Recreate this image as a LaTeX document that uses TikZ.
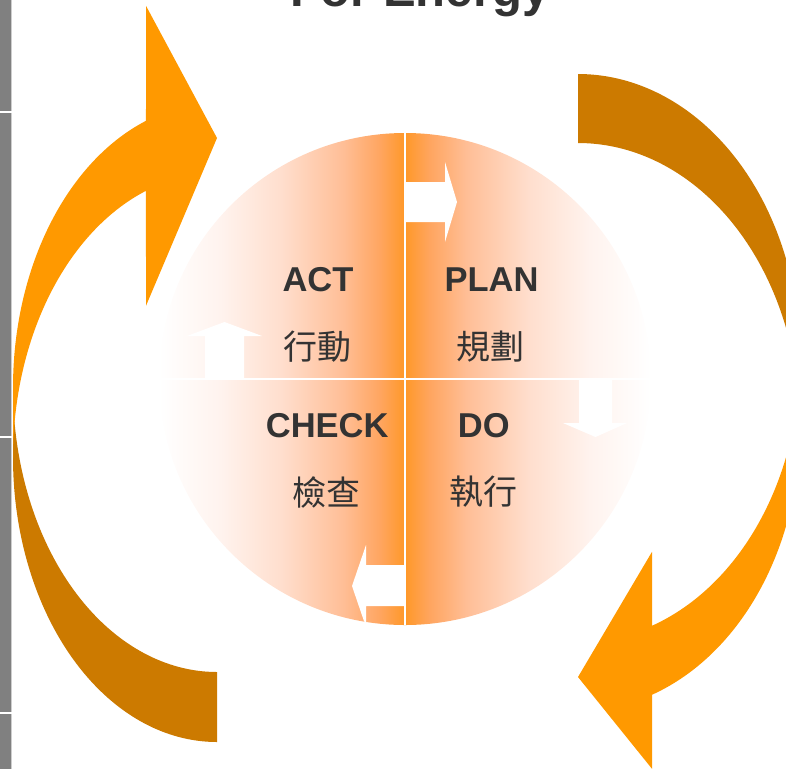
\documentclass[tikz,border=0pt]{standalone}
\usepackage{fontspec}
\setmainfont{Liberation Sans}
\newfontfamily\cjk{Noto Sans CJK TC}
\definecolor{orng}{RGB}{255,153,0}
\definecolor{dorng}{RGB}{204,122,0}
\definecolor{gradc}{RGB}{255,152,40}
\definecolor{gA}{RGB}{255,243,238}
\definecolor{gB}{RGB}{255,222,205}
\definecolor{gC}{RGB}{255,190,150}
\definecolor{gD}{RGB}{255,165,95}
\definecolor{txt}{RGB}{51,51,51}
\definecolor{barc}{RGB}{128,128,128}
\definecolor{baredge}{RGB}{205,205,205}
\pgfdeclarehorizontalshading{fadeleft}{100bp}{color(0bp)=(white); color(25bp)=(white); color(37.5bp)=(gA); color(50bp)=(gB); color(62.5bp)=(gC); color(70bp)=(gD); color(75bp)=(gradc); color(100bp)=(gradc)}
\pgfdeclarehorizontalshading{faderight}{100bp}{color(0bp)=(gradc); color(25bp)=(gradc); color(30bp)=(gD); color(37.5bp)=(gC); color(50bp)=(gB); color(62.5bp)=(gA); color(75bp)=(white); color(100bp)=(white)}
\begin{document}
\begin{tikzpicture}[x=1pt,y=-1pt,
  lbl/.style={font=\fontsize{34.5}{40}\selectfont\bfseries, text=txt, inner sep=0pt, anchor=base},
  zh/.style={font=\cjk\fontsize{34}{40}\selectfont, text=txt, inner sep=0pt, anchor=center},
  ttl/.style={font=\fontsize{49}{56}\selectfont\bfseries, text=txt, inner sep=0pt, anchor=base},
  warrow/.style={fill=white},
  divider/.style={draw=white, line width=2pt}]
\useasboundingbox (0,0) rectangle (786,769);
\begin{scope}
\clip (0,0) rectangle (786,769);
% title (cut off at the top)
\node[ttl] (title) at (420,6) {For Energy};
% left gray bar
\fill[barc] (0,0) rectangle (11,769);
\draw[baredge, line width=1pt] (11.5,0) -- (11.5,769);
\fill[white] (0,111) rectangle (12,113);
\fill[white] (0,436) rectangle (12,438);
\fill[white] (0,712) rectangle (12,714);
% left curved arrow: tail (dark) then body
\fill[dorng] plot[domain=90:180,samples=90] ({217+204*cos(\x)},{457.5+284.5*sin(\x)})
  -- plot[domain=180:90,samples=90] ({217+204*cos(\x)},{387.5+284.5*sin(\x)}) -- cycle;
\fill[orng] plot[domain=180:249.63,samples=90] ({217+204*cos(\x)},{457.5+284.5*sin(\x)})
  -- (146,305.8) -- (217,138) -- (146,5.8)
  -- plot[domain=249.63:180,samples=90] ({217+204*cos(\x)},{387.5+284.5*sin(\x)}) -- cycle;
% right curved arrow: tail (dark) then body
\fill[dorng] plot[domain=-90:0,samples=90] ({578+222*cos(\x)},{358+284*sin(\x)})
  -- plot[domain=0:-90,samples=90] ({578+222*cos(\x)},{427+284*sin(\x)}) -- cycle;
\fill[orng] plot[domain=0:70.53,samples=90] ({578+222*cos(\x)},{358+284*sin(\x)})
  -- (652,551.8) -- (578,677) -- (652,768.8)
  -- plot[domain=70.53:0,samples=90] ({578+222*cos(\x)},{427+284*sin(\x)}) -- cycle;
% circle with gradient halves
\begin{scope}
\clip (405,379) circle[radius=246pt];
\shade[shading=fadeleft] (159,133) rectangle (405,625);
\shade[shading=faderight] (405,133) rectangle (651,625);
% white arrows
\fill[warrow] (405,182) -- (445,182) -- (445,162) -- (457,202) -- (445,242) -- (445,222) -- (405,222) -- cycle;
\fill[warrow] (579,379) -- (612,379) -- (612,423) -- (627,423) -- (595.5,437) -- (563,423) -- (579,423) -- cycle;
\fill[warrow] (405,565) -- (366,565) -- (366,545) -- (352,586) -- (366,627) -- (366,606) -- (405,606) -- cycle;
\fill[warrow] (205,379) -- (205,336) -- (187,336) -- (224.5,322) -- (262,336) -- (244,336) -- (244,379) -- cycle;
\end{scope}
\draw[divider] (405,133) -- (405,625);
\draw[divider] (159,379) -- (651,379);
% labels
\node[lbl] (act) at (318,291.7) {ACT};
\node[lbl] (plan) at (491.5,291.7) {PLAN};
\node[lbl] (check) at (327.2,437.3) {CHECK};
\node[lbl] (do) at (483.8,437.3) {DO};
\node[zh] (actzh) at (317,347) {行動};
\node[zh] (planzh) at (490,347) {規劃};
\node[zh] (checkzh) at (326,492) {檢查};
\node[zh] (dozh) at (483.7,492) {執行};
\end{scope}
\end{tikzpicture}
\end{document}
